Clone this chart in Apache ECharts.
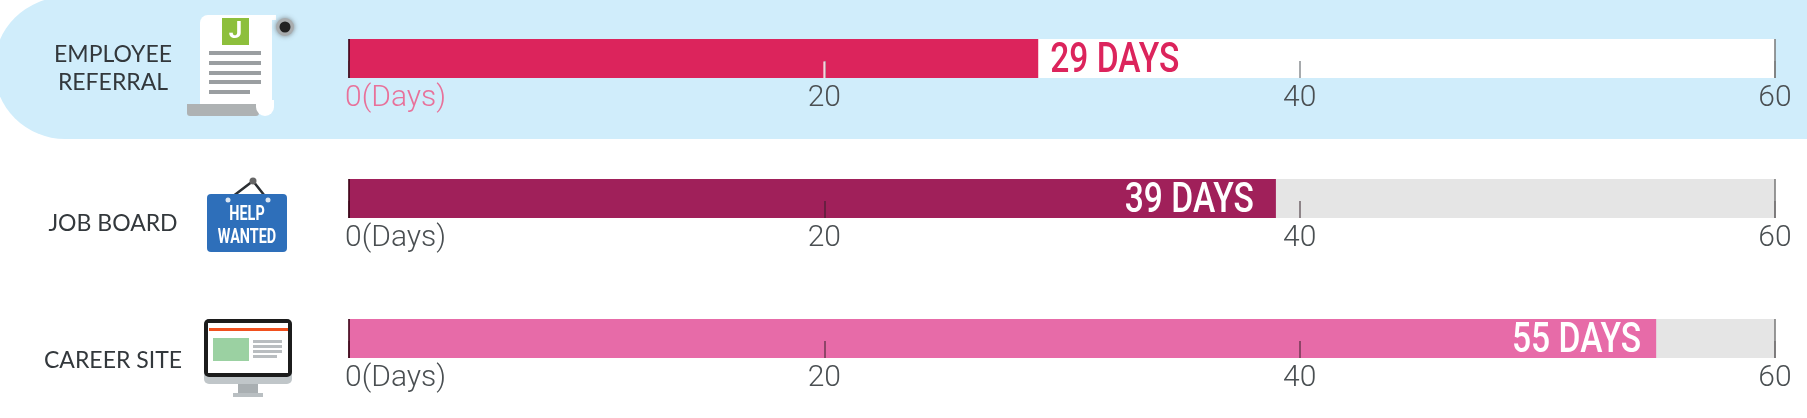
<!DOCTYPE html>
<html>
<head>
<meta charset="utf-8">
<style>html,body{margin:0;padding:0;background:#fff}#c{width:1807px;height:418px}</style>
<script src="https://cdn.jsdelivr.net/npm/echarts@6/dist/echarts.min.js"></script>
</head>
<body>
<div id="c"></div>
<script>
const categories = ['EMPLOYEE\nREFERRAL', 'JOB BOARD', 'CAREER SITE'];
const daysToHire = [29, 39, 55];
const axisMax = 60;
const tickStep = 20;
const barColors = ['#dc245c', '#a0205a', '#e76ba8'];
const trackColors = ['#ffffff', '#e5e5e5', '#e5e5e5'];
const gridTops = [39, 179, 319];
const labelShift = [10, 25, 22];

const chart = echarts.init(document.getElementById('c'), null, {renderer: 'canvas'});

const grids = [], xAxes = [], yAxes = [], series = [];
categories.forEach((cat, i) => {
  const tickFont = {fontFamily: 'Roboto', fontWeight: 300, fontSize: 30};
  grids.push({left: 349, width: 1426, top: gridTops[i], height: 39, containLabel: false});
  xAxes.push({
    type: 'value', gridIndex: i, min: 0, max: axisMax, interval: tickStep, z: 6,
    splitLine: {show: false}, axisLine: {show: false},
    axisTick: {show: true, inside: true, length: 17, lineStyle: {color: i === 0 ? '#8a8f92' : 'rgba(50,30,40,.65)', width: 1.5}},
    axisLabel: {
      show: true, margin: 5, ...tickFont, color: '#4a4f52',
      formatter: v => v === 0 ? '{zero|0(Days)}' : '{t|' + v + '}',
      rich: {
        t: {...tickFont, color: '#4a4f52'},
        zero: {...tickFont, color: i === 0 ? '#e8719a' : '#4a4f52', padding: [0, 0, 0, 93]}
      }
    }
  });
  yAxes.push({
    type: 'category', gridIndex: i, data: [cat],
    axisLine: {show: false}, axisTick: {show: false},
    axisLabel: {
      margin: 236, align: 'center',
      formatter: v => v.split('\n').map(s => '{a|' + s + '}').join('\n'),
      rich: {a: {fontFamily: 'Lato', fontSize: 23, lineHeight: 28, color: '#33383c', padding: [labelShift[i] * 2, 0, 0, 0]}}
    }
  });
  series.push({
    type: 'bar', xAxisIndex: i, yAxisIndex: i, data: [axisMax], barWidth: '100%', barGap: '-100%',
    itemStyle: {color: trackColors[i]}, silent: true, z: 1,
    markLine: {
      silent: true, symbol: 'none', label: {show: false}, z: 7,
      lineStyle: {color: '#777', width: 1.5, type: 'solid'},
      data: [{xAxis: axisMax}]
    }
  });
  series.push({
    type: 'bar', xAxisIndex: i, yAxisIndex: i, data: [daysToHire[i]], barWidth: '100%', barGap: '-100%',
    itemStyle: {color: barColors[i]}, silent: true, z: 2,
    markLine: {
      silent: true, symbol: 'none', label: {show: false}, z: 7,
      lineStyle: {color: 'rgba(60,0,20,.8)', width: 2, type: 'solid'},
      data: [{xAxis: 0}]
    }
  });
  // value label: real text, placed from the data through the axis scale
  series.push({
    type: 'custom', xAxisIndex: i, yAxisIndex: i, silent: true, z: 8, clip: false,
    data: [[daysToHire[i], 0]], encode: {x: 0, y: 1},
    renderItem: (params, api) => {
      const p = api.coord([api.value(0), 0]);
      const outside = i === 0;
      return {
        type: 'text', x: p[0] + (outside ? 12 : (i === 1 ? -22 : -15)), y: p[1] + 3, scaleX: 0.8,
        style: {
          text: api.value(0) + ' DAYS', x: 0, y: 0, align: outside ? 'left' : 'right', verticalAlign: 'middle',
          font: '500 42px Roboto', fill: outside ? barColors[0] : '#ffffff'
        }
      };
    }
  });
});

// the tick at 20 shows white on the first bar
series.push({
  type: 'custom', xAxisIndex: 0, yAxisIndex: 0, silent: true, z: 9,
  data: [[tickStep, 0]], encode: {x: 0, y: 1},
  renderItem: (params, api) => {
    const p = api.coord([api.value(0), 0]);
    const h = api.size([0, 1])[1];
    return {type: 'rect', shape: {x: p[0] - 1, y: p[1] + 3, width: 2, height: h / 2 - 3}, style: {fill: '#f7d3dc'}};
  }
});

const R = (x, y, w, h, fill, r) => ({type: 'rect', shape: {x, y, width: w, height: h, r: r || 0}, style: {fill}});
const grey = '#9a9ea1';
const graphics = [
  // highlighted band
  Object.assign(R(-6, -3, 1830, 142, '#d0edfb', [72, 0, 0, 72]), {z: -10}),
  // scroll icon
  R(200, 15, 72, 90, '#ffffff', [8, 0, 0, 0]),
  R(250, 15, 26, 5, '#ffffff'),
  R(187, 104, 72, 12, '#aeb2b3', [0, 0, 3, 3]),
  R(256, 100, 18, 16, '#ffffff', [0, 0, 9, 9]),
  {type: 'circle', shape: {cx: 285, cy: 27, r: 9}, style: {fill: '#a8acae', shadowBlur: 5, shadowColor: 'rgba(90,90,90,.7)'}},
  {type: 'circle', shape: {cx: 285, cy: 27, r: 5.5}, style: {fill: '#222'}},
  R(222, 18, 27, 27, '#8dbf3c'),
  {type: 'text', style: {x: 235.5, y: 32, text: 'J', fill: '#fff', font: 'bold 24px Roboto', align: 'center', verticalAlign: 'middle'}},
  R(209, 51, 52, 4, grey), R(209, 61, 52, 4, grey), R(209, 71, 52, 4, grey), R(209, 80, 52, 4, grey), R(209, 90, 41, 4, grey),
  // help wanted sign
  {type: 'polyline', shape: {points: [[228, 200], [253, 181], [268, 200]]}, style: {stroke: '#2b2f33', lineWidth: 2.5, fill: 'none'}},
  {type: 'circle', shape: {cx: 253, cy: 181, r: 3.5}, style: {fill: '#666'}},
  R(207, 194, 80, 58, '#2e6fba', 4),
  {type: 'circle', shape: {cx: 228, cy: 200, r: 2.5}, style: {fill: '#dbe6f2'}},
  {type: 'circle', shape: {cx: 268, cy: 200, r: 2.5}, style: {fill: '#dbe6f2'}},
  {type: 'text', x: 247, y: 215, scaleX: 0.72, style: {text: 'HELP', fill: '#fff', font: 'bold 20px Roboto', align: 'center', verticalAlign: 'middle'}},
  {type: 'text', x: 247, y: 238, scaleX: 0.72, style: {text: 'WANTED', fill: '#fff', font: 'bold 20px Roboto', align: 'center', verticalAlign: 'middle'}},
  // monitor icon
  R(204, 319, 88, 65, '#c0c6c9', 5),
  R(204, 319, 88, 58, '#1c1c1c', 5),
  R(208, 323, 80, 50, '#ffffff'),
  R(209, 328, 79, 3, '#f0501e'),
  R(213, 338, 36, 23, '#9bd1a2'),
  R(253, 340, 29, 3, '#b9bdc0'), R(253, 345, 29, 3, '#b9bdc0'), R(253, 350, 29, 3, '#b9bdc0'), R(253, 355, 24, 3, '#b9bdc0'),
  R(238, 384, 20, 9, '#a9afb2'),
  R(233, 393, 30, 4, '#b9bfc2')
];

chart.setOption({
  animation: false,
  backgroundColor: '#ffffff',
  grid: grids, xAxis: xAxes, yAxis: yAxes, series,
  graphic: {elements: graphics.map(g => Object.assign({silent: true}, g, {z: g.z === -10 ? -10 : 0}))}
});
</script>
</body>
</html>
